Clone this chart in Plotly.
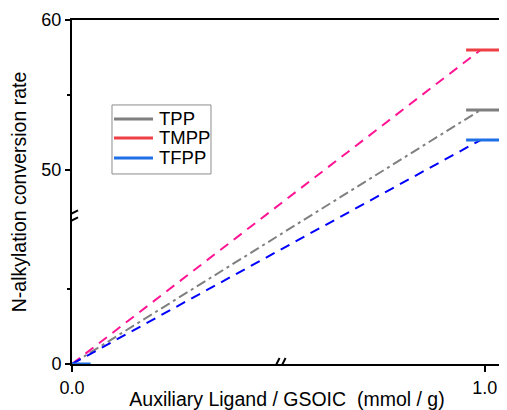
import plotly.graph_objects as go

# ---- data ----
series = ["TPP", "TMPP", "TFPP"]
x_start = [0.0, 0.0, 0.0]
x_end = [0.99, 0.99, 0.99]
y_start = [0, 0, 0]
y_end = [54, 58, 52]
plateau_x = [0.955, 1.05]          # short solid segments at the right edge
origin_x = [0.0, 0.045]            # short solid segment at the origin (TFPP)
y_tick_values = [0, 50, 60]
y_tick_labels = ["0", "50", "60"]
y_minor_values = [5, 55]
x_tick_values = [0.0, 1.0]
x_tick_labels = ["0.0", "1.0"]

# ---- styles ----
dash_colors = ["#808080", "#FF1493", "#0000FF"]
dash_styles = ["10px,4px,3px,4px", "10px,7px", "10px,7px"]
solid_colors = ["#7F7F7F", "#EE3F45", "#1F6FE5"]

# broken y axis: upper segment 50-60 at true scale, lower part compressed below it
BASE = 37.07
def disp(v):
    return v if v >= 50 else BASE + v

fig = go.Figure()

for i, name in enumerate(series):
    fig.add_trace(go.Scatter(
        x=[x_start[i], x_end[i]],
        y=[disp(y_start[i]), disp(y_end[i])],
        mode="lines",
        line=dict(color=dash_colors[i], width=2, dash=dash_styles[i]),
        showlegend=False, hoverinfo="skip"))

for i, name in enumerate(series):
    fig.add_trace(go.Scatter(
        x=plateau_x,
        y=[disp(y_end[i])] * 2,
        mode="lines",
        name=name,
        line=dict(color=solid_colors[i], width=3),
        showlegend=False))

fig.add_trace(go.Scatter(
    x=origin_x, y=[disp(0)] * 2, mode="lines",
    line=dict(color=solid_colors[2], width=3),
    showlegend=False, hoverinfo="skip"))

# axis break marks
shapes = []
ybrk = disp(9.8)
shapes.append(dict(type="rect", xref="x", yref="y", xsizemode="pixel", ysizemode="pixel",
                   xanchor=0, yanchor=ybrk, x0=-3, x1=3, y0=-2, y1=2,
                   fillcolor="white", line=dict(width=0), layer="above"))
for dy in (-3.5, 3.5):
    shapes.append(dict(type="line", xref="x", yref="y", xsizemode="pixel", ysizemode="pixel",
                       xanchor=0, yanchor=ybrk, x0=-6, x1=6, y0=dy - 3, y1=dy + 3,
                       line=dict(color="black", width=2), layer="above"))
xbrk = 0.503
shapes.append(dict(type="rect", xref="x", yref="y", xsizemode="pixel", ysizemode="pixel",
                   xanchor=xbrk, yanchor=BASE, x0=-2, x1=2, y0=-3, y1=3,
                   fillcolor="white", line=dict(width=0), layer="above"))
for dx in (-3, 3):
    shapes.append(dict(type="line", xref="x", yref="y", xsizemode="pixel", ysizemode="pixel",
                       xanchor=xbrk, yanchor=BASE, x0=dx - 3, x1=dx + 3, y0=-6, y1=6,
                       line=dict(color="black", width=2), layer="above"))

# legend box (drawn by hand for compact rows)
LX, LY = 0.093, 0.753
shapes.append(dict(type="rect", xref="paper", yref="paper", xsizemode="pixel", ysizemode="pixel",
                   xanchor=LX, yanchor=LY, x0=0, x1=99, y0=0, y1=-69,
                   fillcolor="white", line=dict(color="#8C8C8C", width=1), layer="above"))
annotations = []
row_offsets = [-14, -33, -53]
for i, name in enumerate(series):
    shapes.append(dict(type="line", xref="paper", yref="paper", xsizemode="pixel", ysizemode="pixel",
                       xanchor=LX, yanchor=LY, x0=2, x1=41, y0=row_offsets[i], y1=row_offsets[i],
                       line=dict(color=solid_colors[i], width=3), layer="above"))
    annotations.append(dict(xref="paper", yref="paper", x=LX, y=LY, xanchor="left", yanchor="middle",
                            xshift=45, yshift=row_offsets[i], text=name, showarrow=False,
                            font=dict(size=18.5, color="black")))

font_family = "Liberation Sans, Arial, sans-serif"

# page body has an 8px margin: figure is sized to fill the rest of the window
fig.update_layout(
    width=499, height=402,
    margin=dict(l=64, r=5, t=12, b=46, autoexpand=False),
    paper_bgcolor="white", plot_bgcolor="white",
    font=dict(family=font_family, color="black", size=18),
    shapes=shapes, annotations=annotations, showlegend=False,
    xaxis=dict(range=[0, 1.042], tickvals=x_tick_values, ticktext=x_tick_labels,
               showline=True, linecolor="black", linewidth=2, mirror=True,
               ticks="outside", ticklen=6, tickwidth=2, tickcolor="black",
               showgrid=False, zeroline=False, automargin=False,
               title=dict(text="Auxiliary Ligand / GSOIC\u00a0 (mmol / g)",
                          font=dict(size=19.5), standoff=5)),
    yaxis=dict(range=[BASE, 60], tickvals=[disp(v) for v in y_tick_values],
               ticktext=y_tick_labels,
               showline=True, linecolor="black", linewidth=2, mirror=True,
               ticks="outside", ticklen=5, tickwidth=2, tickcolor="black",
               minor=dict(tickvals=[disp(v) for v in y_minor_values], ticks="outside",
                          ticklen=3, tickwidth=2, tickcolor="black", showgrid=False),
               showgrid=False, zeroline=False, automargin=False,
               title=dict(text="N-alkylation conversion rate", font=dict(size=19.5), standoff=10)),
)

fig.write_html("out.html")
